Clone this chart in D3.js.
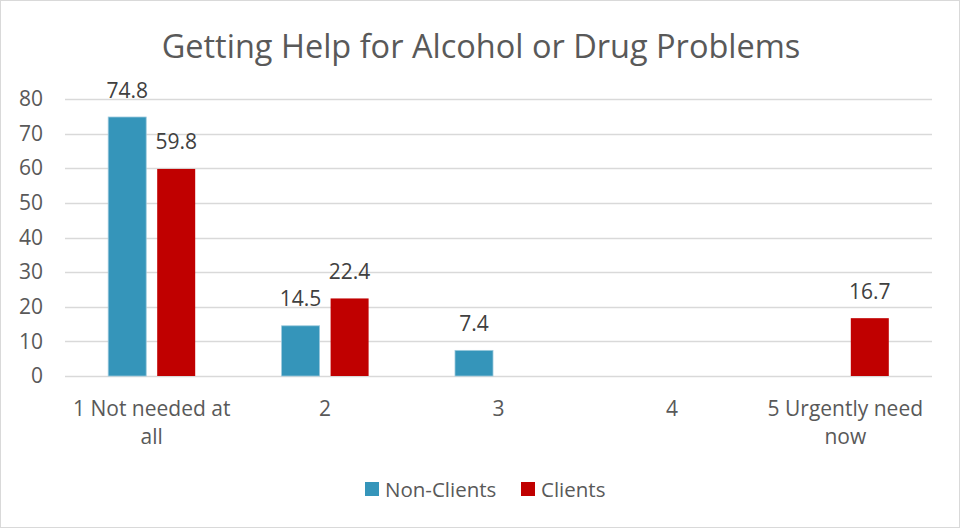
<!DOCTYPE html>
<html><head><meta charset="utf-8">
<script src="https://cdn.jsdelivr.net/npm/d3@7"></script>
<style>body{margin:0;background:#fff}svg{display:block;font-family:"Open Sans",sans-serif}</style>
</head><body>
<svg id="c" width="961" height="529"></svg>
<script>
const categories = [["1 Not needed at","all"],["2"],["3"],["4"],["5 Urgently need","now"]];
const categoryKeys = ["1","2","3","4","5"];
const seriesNames = ["Non-Clients","Clients"];
const nonClients = [74.8, 14.5, 7.4, 0, 0];
const clients = [59.8, 22.4, 0, 0, 16.7];
const yTicks = [0,10,20,30,40,50,60,70,80];
const colors = ["#3595BA","#C00000"];
const title = "Getting Help for Alcohol or Drug Problems";

(function(){
const svg = d3.select("#c");
const W = 961, H = 529;
svg.append("rect").attr("x",0.5).attr("y",0.5).attr("width",W-2).attr("height",H-2)
  .attr("fill","#fff").attr("stroke","#d9d9d9");

const pL = 65, pR = 932, pT = 99, pB = 376;
const y = d3.scaleLinear().domain([0,80]).range([pB, pT]);
const x0 = d3.scaleBand().domain(categoryKeys).range([pL,pR]).padding(0);
const groupW = 87;
const x1 = d3.scaleBand().domain(seriesNames).range([-groupW/2, groupW/2]).paddingInner(11/49);

svg.append("text").attr("x",481).attr("y",58).attr("text-anchor","middle")
  .attr("font-size",32.5).attr("fill","#595959").text(title);

// grid
svg.append("g").selectAll("line").data(yTicks).join("line")
  .attr("x1",pL).attr("x2",pR).attr("y1",d=>Math.round(y(d))+0.5).attr("y2",d=>Math.round(y(d))+0.5)
  .attr("stroke","#d9d9d9").attr("stroke-width",1.3);

// y axis labels
const yAxis = d3.axisLeft(y).tickValues(yTicks).tickSize(0).tickPadding(0);
const ga = svg.append("g").attr("transform",`translate(${43},0)`).call(yAxis);
ga.select(".domain").remove();
ga.selectAll("text").attr("font-size",21).attr("fill","#595959").attr("font-family","Open Sans, sans-serif");

const data = [nonClients, clients];
const g = svg.append("g");
seriesNames.forEach((s,si)=>{
  const vals = data[si].map((v,i)=>({v,i})).filter(d=>d.v>0);
  g.selectAll(null).data(vals).join("rect")
    .attr("x",d=>x0(categoryKeys[d.i])+x0.bandwidth()/2+x1(s))
    .attr("width",x1.bandwidth())
    .attr("y",d=>y(d.v)).attr("height",d=>y(0)-y(d.v))
    .attr("fill",colors[si]).attr("stroke",si===0?"#9cc9dc":"none").attr("stroke-width",0.8);
  g.selectAll(null).data(vals).join("text")
    .attr("x",d=>x0(categoryKeys[d.i])+x0.bandwidth()/2+x1(s)+x1.bandwidth()/2)
    .attr("y",d=>y(d.v)-19.5)
    .attr("text-anchor","middle").attr("font-size",21).attr("fill","#404040")
    .text(d=>d.v.toFixed(1));
});

// x labels
const xl = svg.append("g");
categories.forEach((lines,i)=>{
  const cx = x0(categoryKeys[i])+x0.bandwidth()/2;
  const t = xl.append("text").attr("x",cx).attr("y",415.5)
    .attr("text-anchor","middle").attr("font-size",21).attr("fill","#595959");
  lines.forEach((ln,j)=>t.append("tspan").attr("x",cx).attr("dy",j?28:0).text(ln));
});

// legend
const legX = [365, 521];
seriesNames.forEach((s,i)=>{
  svg.append("rect").attr("x",legX[i]).attr("y",482).attr("width",14).attr("height",14).attr("fill",colors[i]);
  svg.append("text").attr("x",legX[i]+20).attr("y",497).attr("font-size",20.5).attr("fill","#595959").text(s);
});
})();
</script>
</body></html>
